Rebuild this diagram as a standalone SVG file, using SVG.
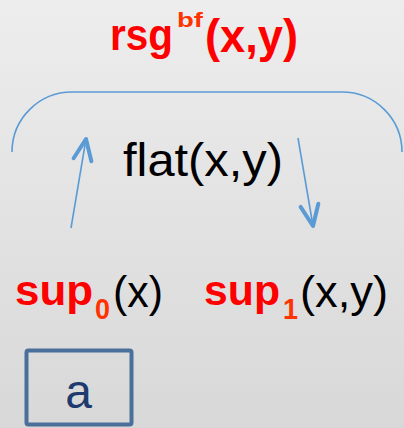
<svg xmlns="http://www.w3.org/2000/svg" width="404" height="428" viewBox="0 0 404 428">
<defs>
<linearGradient id="bg" x1="0" y1="0" x2="0" y2="1">
<stop offset="0" stop-color="#ededed"/>
<stop offset="1" stop-color="#d8d8d8"/>
</linearGradient>
<marker id="ah" markerUnits="userSpaceOnUse" markerWidth="40" markerHeight="40" refX="0" refY="0" orient="auto" overflow="visible">
<path d="M-21,-9 L0,0 L-21,9" fill="none" stroke="#5b9bd5" stroke-width="4" stroke-linecap="round" stroke-linejoin="round"/>
</marker>
<style>
text{font-family:"Liberation Sans",Arial,sans-serif}
.red{font-weight:bold;fill:#ff0000}
.sub{font-weight:bold;fill:#ff3300}
.blk{font-weight:normal;fill:#000000}
.conn{fill:none;stroke:#5b9bd5;stroke-width:1.6}
</style>
</defs>
<rect width="404" height="428" fill="url(#bg)"/>
<g id="title">
<text class="red" transform="translate(110,50) scale(1,1.12)" font-size="40" textLength="63" lengthAdjust="spacingAndGlyphs">rsg</text>
<text class="sub" x="177" y="27" font-size="21" textLength="26" lengthAdjust="spacingAndGlyphs">bf</text>
<text class="red" x="205" y="52" font-size="46" textLength="93" lengthAdjust="spacingAndGlyphs">(x,y)</text>
</g>
<g id="connectors">
<path class="conn" d="M12,152 A60,60 0 0 1 72,92 L342,92 A60,60 0 0 1 402,152"/>
<line class="conn" x1="71" y1="228" x2="86" y2="139" marker-end="url(#ah)"/>
<line class="conn" x1="298" y1="138" x2="313" y2="226" marker-end="url(#ah)"/>
</g>
<g id="flat">
<text class="blk" x="123" y="176" font-size="46" textLength="160" lengthAdjust="spacingAndGlyphs">flat(x,y)</text>
</g>
<g id="sup0">
<text><tspan class="red" x="15" y="305" font-size="42" textLength="78" lengthAdjust="spacingAndGlyphs">sup</tspan><tspan class="sub" x="95" y="319" font-size="30" textLength="15" lengthAdjust="spacingAndGlyphs">0</tspan><tspan class="blk" x="113" y="307" font-size="45" textLength="50" lengthAdjust="spacingAndGlyphs">(x)</tspan></text>
</g>
<g id="sup1">
<text><tspan class="red" x="204" y="305" font-size="42" textLength="76" lengthAdjust="spacingAndGlyphs">sup</tspan><tspan class="sub" x="283" y="319" font-size="30" textLength="15" lengthAdjust="spacingAndGlyphs">1</tspan><tspan class="blk" x="300" y="307" font-size="45" textLength="88" lengthAdjust="spacingAndGlyphs">(x,y)</tspan></text>
</g>
<g id="a">
<rect x="26.5" y="350.5" width="105" height="74" rx="2" fill="none" stroke="#4a6f9a" stroke-width="4"/>
<text x="78.5" y="408" font-size="48" fill="#1f3a6e" text-anchor="middle">a</text>
</g>
</svg>
